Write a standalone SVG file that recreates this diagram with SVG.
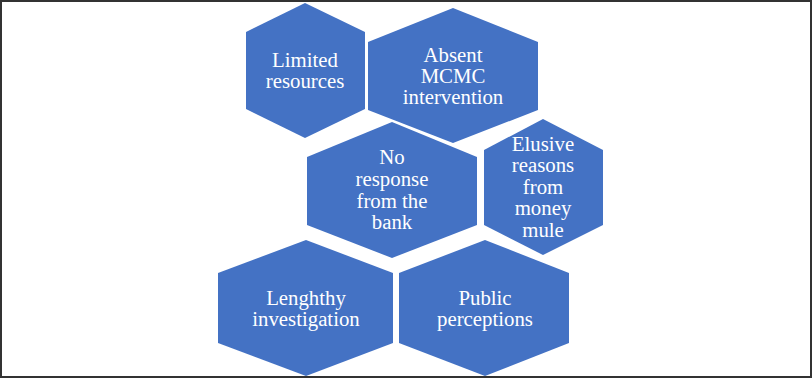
<svg xmlns="http://www.w3.org/2000/svg" width="812" height="378" viewBox="0 0 812 378">
<style>
.hex{fill:#4472C4;}
.t{font-family:"Liberation Serif","Times New Roman",serif;font-size:20.8px;fill:#ffffff;text-anchor:middle;}
</style>
<rect x="0" y="0" width="812" height="378" fill="#ffffff"/>
<rect x="1" y="1" width="810" height="376" fill="none" stroke="#333333" stroke-width="2"/>
<g id="connectors"/>
<g id="limited">
<polygon class="hex" points="305,3 365,32 365,109 305,138 246,109 246,32"/>
<text class="t" x="305" y="67">Limited</text>
<text class="t" x="305" y="88">resources</text>
</g>
<g id="absent">
<polygon class="hex" points="453,8 538,42 538,110 453,143 368,110 368,42"/>
<text class="t" x="453" y="62">Absent</text>
<text class="t" x="453" y="83">MCMC</text>
<text class="t" x="453" y="104">intervention</text>
</g>
<g id="noresponse">
<polygon class="hex" points="392,122 477,157 477,225 392,258 307,225 307,157"/>
<text class="t" x="392" y="164">No</text>
<text class="t" x="392" y="186">response</text>
<text class="t" x="392" y="208">from the</text>
<text class="t" x="392" y="229">bank</text>
</g>
<g id="elusive">
<polygon class="hex" points="543,119 603,150 603,225 543,255 484,225 484,150"/>
<text class="t" x="543" y="151">Elusive</text>
<text class="t" x="543" y="172">reasons</text>
<text class="t" x="543" y="194">from</text>
<text class="t" x="543" y="215">money</text>
<text class="t" x="543" y="237">mule</text>
</g>
<g id="lengthy">
<polygon class="hex" points="306,240 393,273 393,343 306,376 218,343 218,273"/>
<text class="t" x="306" y="305">Lenghthy</text>
<text class="t" x="306" y="326">investigation</text>
</g>
<g id="public">
<polygon class="hex" points="485,240 569,273 569,343 485,376 399,343 399,273"/>
<text class="t" x="485" y="305">Public</text>
<text class="t" x="485" y="326">perceptions</text>
</g>
</svg>
